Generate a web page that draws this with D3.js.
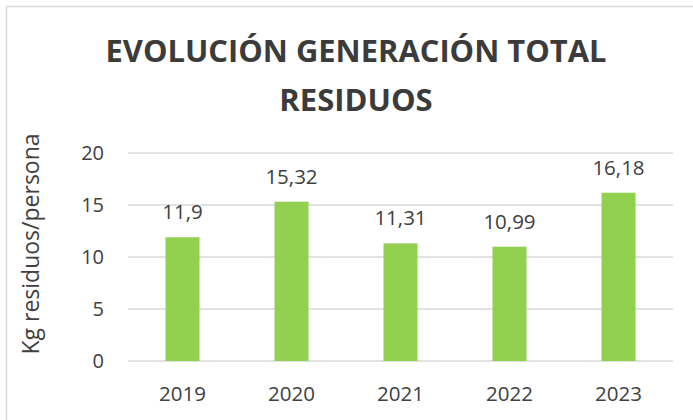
<!DOCTYPE html>
<html>
<head>
<meta charset="utf-8">
<script src="https://cdn.jsdelivr.net/npm/d3@7"></script>
<style>
  body { margin: 0; background: #fff; }
  svg { display: block; font-family: "Open Sans", "Noto Sans", sans-serif; }
</style>
</head>
<body>
<svg id="chart" width="693" height="420"></svg>
<script>
// chart data
const years = ["2019", "2020", "2021", "2022", "2023"];
const values = [11.9, 15.32, 11.31, 10.99, 16.18];
const yTicks = [0, 5, 10, 15, 20];
const titleLines = ["EVOLUCIÓN GENERACIÓN TOTAL", "RESIDUOS"];
const yTitle = "Kg residuos/persona";

let svg = d3.select("#chart");

let margin = { left: 128, right: 20, top: 153, bottom: 59 },
    width = 693 - margin.left - margin.right,
    height = 420 - margin.top - margin.bottom;

// outer chart frame (right and bottom run off the picture)
svg.append("rect")
    .attr("x", 6.5).attr("y", 6.5)
    .attr("width", 720).attr("height", 440)
    .attr("fill", "none")
    .attr("stroke", "#d9d9d9")
    .attr("stroke-width", 1.5);

// title
let title = svg.append("text")
    .attr("text-anchor", "middle")
    .attr("font-weight", "bold")
    .attr("font-size", 31)
    .attr("fill", "#3b3b3b");

title.selectAll("tspan")
    .data(titleLines).enter()
    .append("tspan")
    .attr("x", 356)
    .attr("y", (d, i) => 62 + i * 49)
    .text(d => d);

// squeeze title a bit, the original face is narrower
title.selectAll("tspan").each(function(d, i) {
    let target = i == 0 ? 501 : 168;
    if (this.getComputedTextLength() > target) {
        d3.select(this).attr("textLength", target).attr("lengthAdjust", "spacingAndGlyphs");
    }
});

let chart = svg.append("g")
    .attr("transform", "translate(" + margin.left + "," + margin.top + ")");

let x = d3.scaleBand()
    .domain(years)
    .range([0, width])
    .paddingInner(0.688)
    .paddingOuter(0.344);

let y = d3.scaleLinear()
    .domain([0, 20])
    .range([height, 0]);

// gridlines
chart.append("g")
    .attr("class", "grid")
    .selectAll("line")
    .data(yTicks).enter()
    .append("line")
    .attr("x1", 0)
    .attr("x2", width)
    .attr("y1", d => y(d))
    .attr("y2", d => y(d))
    .attr("stroke", "#d9d9d9")
    .attr("stroke-width", 1.5);

// y axis labels
let yAxis = chart.append("g")
    .attr("transform", "translate(-24,0)")
    .call(d3.axisLeft(y).tickValues(yTicks).tickSize(0).tickPadding(0));
yAxis.select(".domain").remove();
yAxis.selectAll("text")
    .attr("font-size", 20)
    .attr("font-family", "'Open Sans', sans-serif")
    .attr("fill", "#404040");

// x axis labels
let xAxis = chart.append("g")
    .attr("transform", "translate(0," + height + ")")
    .call(d3.axisBottom(x).tickSize(0).tickPadding(0));
xAxis.select(".domain").remove();
xAxis.selectAll("text")
    .attr("dy", null)
    .attr("y", 39.5)
    .attr("font-size", 20.5)
    .attr("font-family", "'Open Sans', sans-serif")
    .attr("fill", "#404040");

// bars
let data = years.map((d, i) => ({ year: d, value: values[i] }));

chart.selectAll("rect.bar")
    .data(data).enter()
    .append("rect")
    .attr("class", "bar")
    .attr("x", d => x(d.year))
    .attr("y", d => y(d.value))
    .attr("width", x.bandwidth())
    .attr("height", d => height - y(d.value))
    .attr("fill", "#92d050");

// value labels
chart.selectAll("text.value")
    .data(data).enter()
    .append("text")
    .attr("class", "value")
    .attr("x", d => x(d.year) + x.bandwidth() / 2)
    .attr("y", d => y(d.value) - 18)
    .attr("text-anchor", "middle")
    .attr("font-size", 20.5)
    .attr("fill", "#404040")
    .text(d => String(d.value).replace(".", ","));

// y axis title
svg.append("text")
    .attr("transform", "translate(39,244) rotate(-90)")
    .attr("text-anchor", "middle")
    .attr("font-size", 23)
    .attr("fill", "#404040")
    .text(yTitle);
</script>
</body>
</html>
